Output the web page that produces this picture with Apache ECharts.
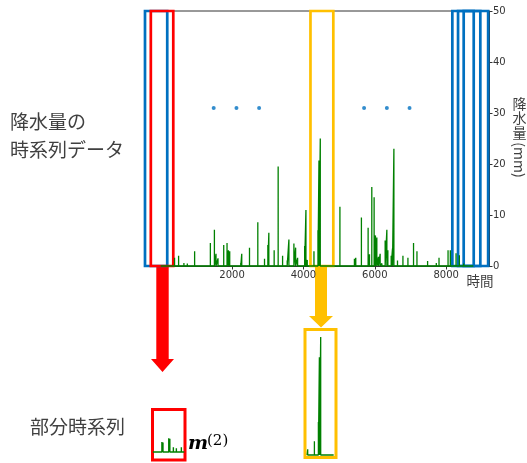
<!DOCTYPE html>
<html>
<head>
<meta charset="utf-8">
<script src="https://cdn.jsdelivr.net/npm/echarts@6/dist/echarts.min.js"></script>
<style>
  html, body { margin: 0; padding: 0; background: #fff; }
  #chart { width: 527px; height: 463px; }
</style>
</head>
<body>
<div id="chart"></div>
<script>
// hourly rain events: [hour, mm]
var rainEvents = [
  [390, 1.6], [503, 2.0], [652, 0.6], [747, 0.5], [952, 2.9],
  [1393, 4.5], [1506, 7.1], [1551, 2.4], [1607, 1.5], [1767, 4.1],
  [1860, 4.5], [1899, 3.1], [1935, 2.9], [2244, 0.6], [2272, 2.4],
  [2489, 3.6], [2722, 8.6], [2910, 1.4], [3003, 4.1], [3031, 6.5],
  [3180, 3.1], [3292, 19.5], [3416, 2.0], [3545, 1.1], [3593, 5.2],
  [3733, 4.4], [3781, 3.6], [3837, 1.6], [4034, 3.9], [4070, 11.0],
  [4107, 1.2], [4295, 2.9], [4407, 7.0], [4435, 20.7], [4472, 25.0],
  [5022, 11.6], [5428, 1.4], [5466, 1.6], [5624, 9.5], [5812, 7.5],
  [5850, 2.3], [5915, 15.5], [5980, 13.5], [6017, 6.0], [6056, 5.6],
  [6102, 1.8], [6149, 2.4], [6197, 0.5], [6289, 5.0], [6337, 7.1],
  [6365, 3.1], [6458, 2.0], [6495, 3.4], [6534, 23.0], [6635, 1.1],
  [6787, 2.0], [6927, 1.6], [7084, 4.5], [7180, 2.9], [7478, 1.0],
  [7722, 0.6], [7798, 1.6], [8051, 3.1], [8115, 3.1], [8275, 2.5],
  [8368, 2.1], [8489, 0.5]
];
var hoursInYear = 8760;

// the small red sub-series m(2), hours inside its own window
var partM2 = [[250, 2.1], [280, 2.0], [440, 2.9], [470, 2.8], [568, 1.0], [651, 0.8], [789, 1.0]];
var partM2Range = [0, 870];

// sliding windows (hours)
var blueWindows = [[-438, 185], [8171, 8770], [8331, 8955], [8489, 9174]];
var redWindow = [-275, 354];
var yellowWindow = [4197, 4837];

// the "..." dots
var dotHours = [1486, 2124, 2758, 5699, 6337, 6972];
var dotLevel = 31;

var xTicks = [2000, 4000, 6000, 8000];

function spikes(events, t0, t1) {
  var d = [[t0, 0]];
  events.forEach(function (e) {
    if (e[0] >= t0 && e[0] <= t1) {
      d.push([e[0], 0], [e[0], e[1]], [e[0], 0]);
    }
  });
  d.push([t1, 0]);
  return d;
}

function areaBox(w) {
  return [{ xAxis: w[0], yAxis: 0 }, { xAxis: w[1], yAxis: 50 }];
}

var green = '#008000';
var blue = '#0070C0';
var red = '#FF0000';
var yellow = '#FFC000';
var jp = '"Noto Sans CJK JP", sans-serif';

var myChart = echarts.init(document.getElementById('chart'), null, { renderer: 'canvas' });

var option = {
  animation: false,
  grid: [
    { left: 145, top: 11, width: 344, height: 255, show: true, borderColor: '#333', borderWidth: 1 },
    { left: 152.5, top: 409.5, width: 32.5, height: 50.5, show: true, borderColor: red, borderWidth: 3 },
    { left: 305, top: 329.5, width: 31, height: 128, show: true, borderColor: yellow, borderWidth: 3 }
  ],
  xAxis: [
    {
      gridIndex: 0, type: 'value', min: -438, max: 9198,
      axisLine: { show: true, onZero: false, lineStyle: { color: '#333' } },
      axisTick: { show: true, length: 3.5, lineStyle: { color: '#333' }, customValues: xTicks },
      axisLabel: {
        customValues: xTicks, fontSize: 10, fontFamily: 'DejaVu Sans', color: '#333', margin: 4,
        formatter: function (v) { return String(v); }
      },
      splitLine: { show: false }
    },
    { gridIndex: 1, type: 'value', min: partM2Range[0] - 10, max: partM2Range[1] + 20, show: false },
    { gridIndex: 2, type: 'value', min: 4031, max: 4902, show: false }
  ],
  yAxis: [
    {
      gridIndex: 0, type: 'value', position: 'right', min: 0, max: 50, interval: 10,
      axisLine: { show: true, onZero: false, lineStyle: { color: '#333' } },
      axisTick: { show: true, length: 3.5, lineStyle: { color: '#333' } },
      axisLabel: { fontSize: 10, fontFamily: 'DejaVu Sans', color: '#333', margin: 4 },
      splitLine: { show: false }
    },
    { gridIndex: 1, type: 'value', min: -1.7, max: 9.0, show: false },
    { gridIndex: 2, type: 'value', min: -0.53, max: 26.6, show: false }
  ],
  series: [
    {
      name: 'rain', type: 'line', xAxisIndex: 0, yAxisIndex: 0,
      data: spikes(rainEvents, 0, hoursInYear),
      showSymbol: false, clip: false, z: 2,
      lineStyle: { color: green, width: 1.3 }
    },
    {
      name: 'dots', type: 'scatter', xAxisIndex: 0, yAxisIndex: 0,
      data: dotHours.map(function (h) { return [h, dotLevel]; }),
      symbolSize: 4, itemStyle: { color: blue }, z: 3
    },
    {
      name: 'blueWin', type: 'line', xAxisIndex: 0, yAxisIndex: 0, data: [], clip: false, z: 4,
      markArea: {
        silent: true,
        itemStyle: { color: 'rgba(0,0,0,0)', borderColor: blue, borderWidth: 2.7 },
        data: blueWindows.map(areaBox)
      }
    },
    {
      name: 'redWin', type: 'line', xAxisIndex: 0, yAxisIndex: 0, data: [], clip: false, z: 5,
      markArea: {
        silent: true,
        itemStyle: { color: 'rgba(0,0,0,0)', borderColor: red, borderWidth: 2.7 },
        data: [areaBox(redWindow)]
      }
    },
    {
      name: 'yellowWin', type: 'line', xAxisIndex: 0, yAxisIndex: 0, data: [], clip: false, z: 5,
      markArea: {
        silent: true,
        itemStyle: { color: 'rgba(0,0,0,0)', borderColor: yellow, borderWidth: 2.7 },
        data: [areaBox(yellowWindow)]
      }
    },
    {
      name: 'm2', type: 'line', xAxisIndex: 1, yAxisIndex: 1,
      data: spikes(partM2, partM2Range[0], partM2Range[1]),
      showSymbol: false, clip: false,
      lineStyle: { color: green, width: 1.4 }
    },
    {
      name: 'yellowPart', type: 'line', xAxisIndex: 2, yAxisIndex: 2,
      data: spikes(rainEvents, 4090, yellowWindow[1]),
      showSymbol: false, clip: false,
      lineStyle: { color: green, width: 1.3 }
    }
  ],
  graphic: [
    { type: 'text', left: 10, top: 108, style: { text: '降水量の\n時系列データ', font: '19px ' + jp, fill: '#404040', lineHeight: 28 } },
    { type: 'text', left: 30, top: 417, style: { text: '部分時系列', font: '19px ' + jp, fill: '#404040', lineHeight: 20 } },
    { type: 'text', x: 480, y: 281, style: { text: '時間', font: '13.5px ' + jp, fill: '#404040', align: 'center', verticalAlign: 'middle' } },
    { type: 'text', x: 519.5, y: 96, style: { text: '降\n水\n量', font: '14px ' + jp, fill: '#404040', align: 'center', verticalAlign: 'top', lineHeight: 14.5 } },
    { type: 'text', x: 519.5, y: 160, rotation: -Math.PI / 2, style: { text: '(mm)', font: '14px ' + jp, fill: '#404040', align: 'center', verticalAlign: 'middle' } },
    { type: 'text', x: 188, y: 454, style: { text: 'm', font: 'italic bold 19px "DejaVu Serif", serif', fill: '#000', verticalAlign: 'bottom' } },
    { type: 'text', x: 207, y: 441, style: { text: '(2)', font: '15px "DejaVu Serif", serif', fill: '#000', verticalAlign: 'middle' } },
    { type: 'polygon', shape: { points: [[156.3, 267], [168.7, 267], [168.7, 359], [174, 359], [162.5, 372], [151, 359], [156.3, 359]] }, style: { fill: red } },
    { type: 'polygon', shape: { points: [[315, 267], [327, 267], [327, 316], [333, 316], [321, 327.5], [309, 316], [315, 316]] }, style: { fill: yellow } }
  ]
};

myChart.setOption(option);
</script>
</body>
</html>
